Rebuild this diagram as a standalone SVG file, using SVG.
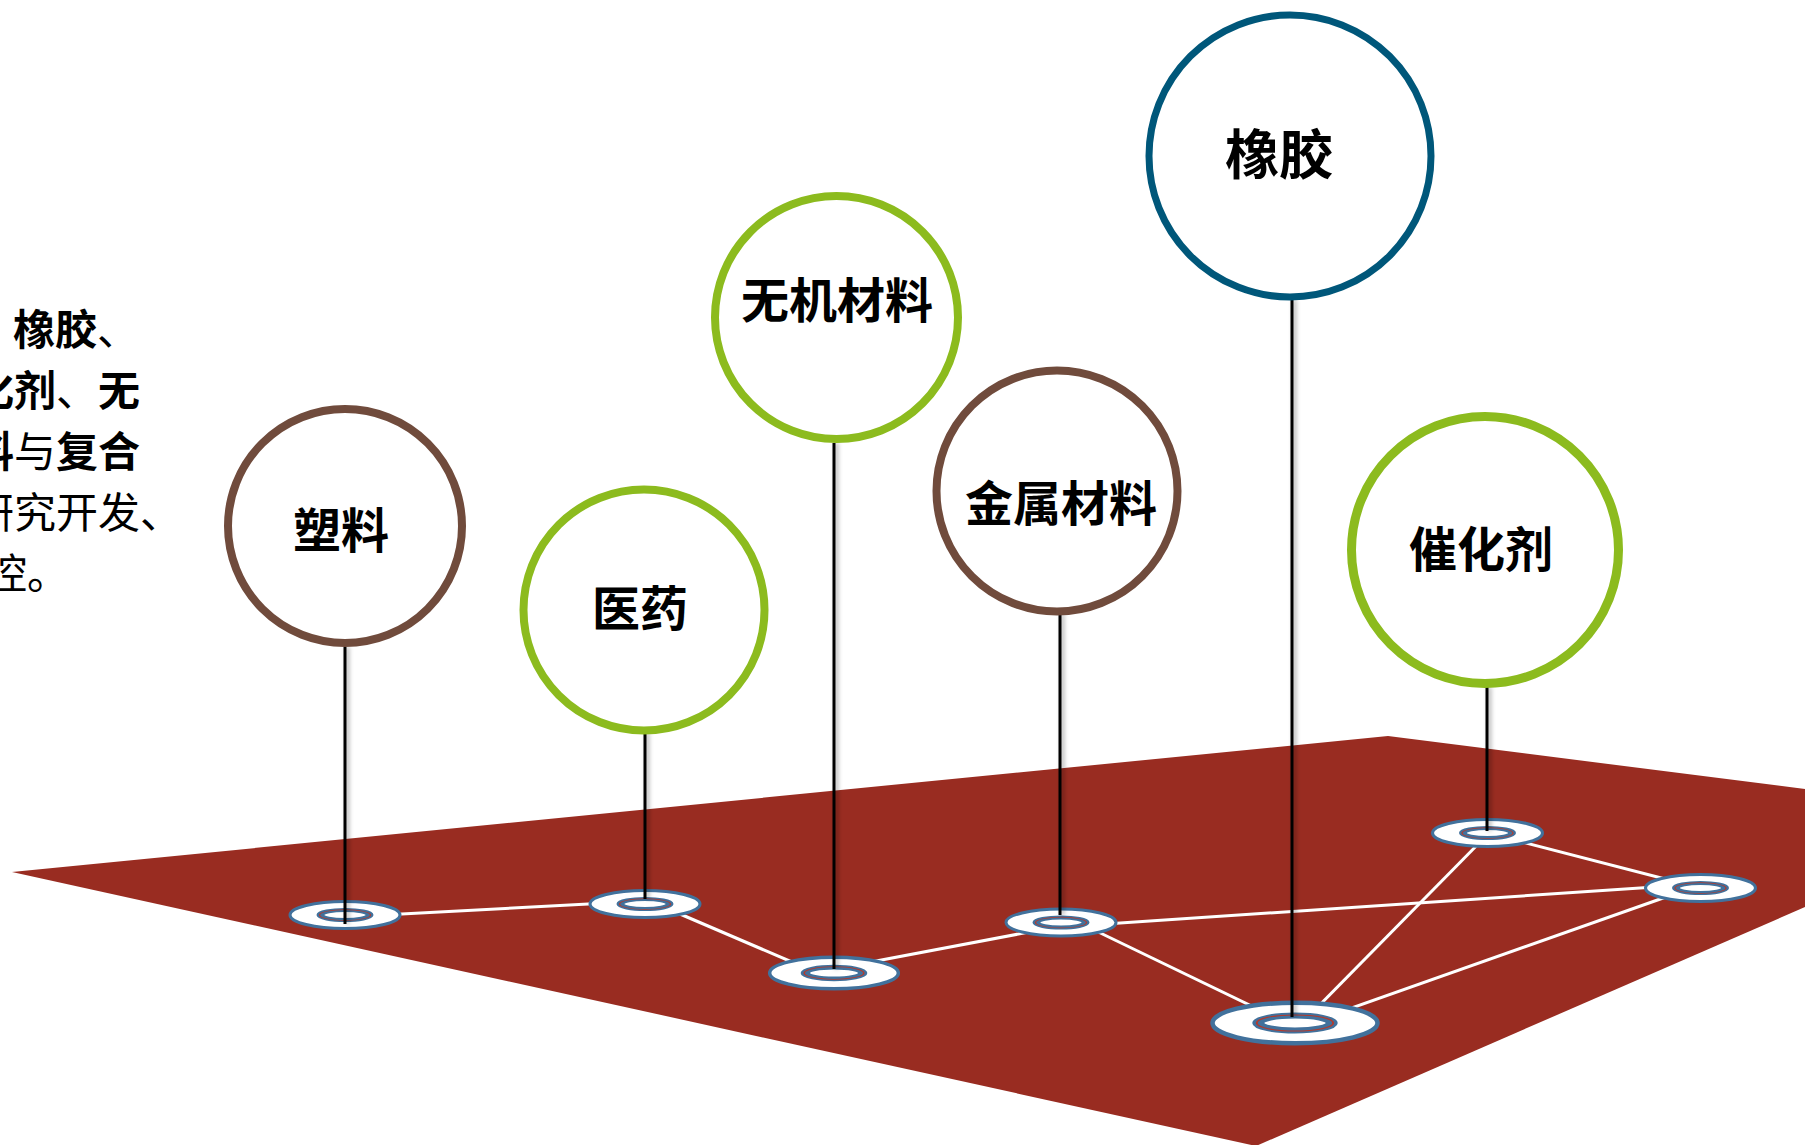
<svg xmlns="http://www.w3.org/2000/svg" xmlns:xlink="http://www.w3.org/1999/xlink" width="1805" height="1145" viewBox="0 0 1805 1145">
<style>
.node-circle{fill:#fff}
.brown{stroke:#704B3C}
.green{stroke:#8CBB1E}
.teal{stroke:#00577A}
.label{font-family:"Noto Sans CJK SC","Noto Sans",sans-serif;font-weight:700;fill:#000;text-anchor:middle}
.stem{stroke:#000;stroke-width:3;filter:url(#shadow)}
.conn{stroke:#fff;stroke-width:3;fill:none}
.para{font-family:"Noto Sans CJK SC","Noto Sans",sans-serif;font-size:42px;fill:#000}
.b{font-weight:700}
</style>
<defs>
<filter id="shadow" filterUnits="userSpaceOnUse" x="0" y="0" width="1805" height="1145">
<feDropShadow dx="2.5" dy="0" stdDeviation="2" flood-color="#000" flood-opacity="0.35"/>
</filter>
<g id="base">
<ellipse rx="55" ry="13.5" fill="#fff" stroke="#41719C" stroke-width="3"/>
<g transform="scale(1,0.5)">
<ellipse rx="24.5" ry="10" fill="none" stroke="#41719C" stroke-width="8"/>
<ellipse rx="25.5" ry="10.8" fill="none" stroke="#B23A2E" stroke-width="1.3"/>
</g>
</g>
</defs>
<rect width="1805" height="1145" fill="#fff"/>
<polygon id="floor" points="12,872 1388,736 1805,789 1805,907 1256,1146" fill="#992C21"/>
<g id="intro-text">
<text class="para" x="13" y="345"><tspan class="b">橡胶</tspan>、</text>
<text class="para" x="-28" y="406"><tspan class="b">化剂</tspan>、<tspan class="b">无</tspan></text>
<text class="para" x="-28" y="467"><tspan class="b">料</tspan>与<tspan class="b">复合</tspan></text>
<text class="para" x="-28" y="528">研究开发、</text>
<text class="para" x="-15" y="589">控。</text>
</g>
<g id="connectors">
<line class="conn" x1="345" y1="917" x2="645" y2="901"/>
<line class="conn" x1="645" y1="899" x2="834" y2="980"/>
<line class="conn" x1="834" y1="969" x2="1061" y2="926"/>
<line class="conn" x1="1061" y1="914" x2="1295" y2="1027"/>
<line class="conn" x1="1061" y1="927" x2="1700" y2="884"/>
<line class="conn" x1="1489" y1="833" x2="1302" y2="1023"/>
<line class="conn" x1="1487" y1="833" x2="1700" y2="888"/>
<line class="conn" x1="1295" y1="1028" x2="1700" y2="885"/>
</g>
<g id="node-plastic">
<use xlink:href="#base" href="#base" transform="translate(345,915)"/>
<line class="stem" x1="345" y1="647" x2="345" y2="924"/>
<circle class="node-circle brown" cx="345" cy="526" r="117" stroke-width="8"/>
<text class="label" x="341" y="548" font-size="48">塑料</text>
</g>
<g id="node-medicine">
<use xlink:href="#base" href="#base" transform="translate(645,904)"/>
<line class="stem" x1="645" y1="733" x2="645" y2="899"/>
<circle class="node-circle green" cx="644" cy="610" r="120.5" stroke-width="8"/>
<text class="label" x="640" y="626" font-size="48">医药</text>
</g>
<g id="node-inorganic">
<use xlink:href="#base" href="#base" transform="translate(834,973) scale(1.17)"/>
<line class="stem" x1="834" y1="443" x2="834" y2="969"/>
<circle class="node-circle green" cx="836.5" cy="317.5" r="121.5" stroke-width="8"/>
<text class="label" x="837" y="318" font-size="48">无机材料</text>
</g>
<g id="node-metal">
<use xlink:href="#base" href="#base" transform="translate(1061,922.5)"/>
<line class="stem" x1="1060" y1="614" x2="1060" y2="915"/>
<circle class="node-circle brown" cx="1057" cy="491" r="120.5" stroke-width="8"/>
<text class="label" x="1061" y="521" font-size="48">金属材料</text>
</g>
<g id="node-rubber">
<use xlink:href="#base" href="#base" transform="translate(1295,1023) scale(1.5)"/>
<line class="stem" x1="1292" y1="300" x2="1292" y2="1017"/>
<circle class="node-circle teal" cx="1290" cy="156" r="141" stroke-width="7"/>
<text class="label" x="1279" y="175" font-size="54">橡胶</text>
</g>
<g id="node-catalyst">
<use xlink:href="#base" href="#base" transform="translate(1487.5,833)"/>
<line class="stem" x1="1487" y1="687" x2="1487" y2="831"/>
<circle class="node-circle green" cx="1485" cy="550" r="133.5" stroke-width="9"/>
<text class="label" x="1481" y="567" font-size="48">催化剂</text>
</g>
<g id="node-right">
<use xlink:href="#base" href="#base" transform="translate(1700.5,888)"/>
</g>
</svg>
